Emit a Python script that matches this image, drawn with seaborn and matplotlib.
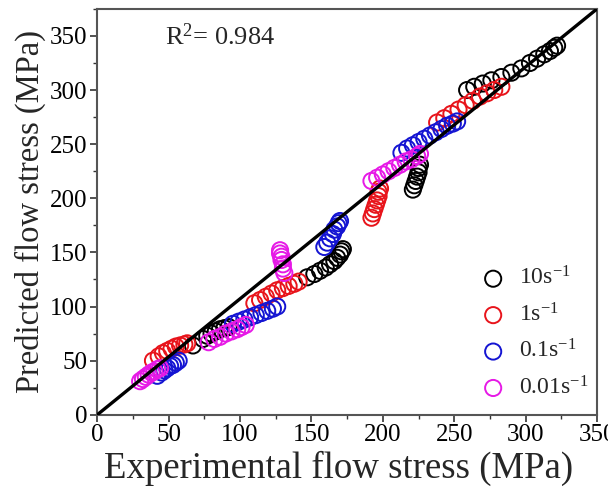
import numpy as np
import pandas as pd
import seaborn as sns
import matplotlib.pyplot as plt
from matplotlib.ticker import MultipleLocator

sns.set_style('ticks')
plt.rcParams['font.family'] = ['Liberation Serif', 'DejaVu Serif']
plt.rcParams['mathtext.fontset'] = 'custom'
plt.rcParams['mathtext.rm'] = 'Liberation Serif'
plt.rcParams['mathtext.it'] = 'Liberation Serif:italic'

# experimental vs predicted flow stress (MPa), one pair per strain rate
EXP_10 = [67, 74, 77, 80, 83, 86, 89, 92,
          147, 152, 156, 160, 163, 166, 168, 170, 171, 172,
          221, 222, 223, 224, 225, 225, 226,
          259, 264, 270, 276, 283, 290, 297, 303, 308, 313, 317, 320, 322]
PRED_10 = [64, 70, 73, 75, 77, 79, 80, 81,
           127, 130, 133, 136, 139, 142, 145, 148, 151, 153,
           208, 212, 216, 220, 224, 228, 231,
           300, 303, 306, 309, 312, 316, 320, 325, 329, 333, 336, 339, 341]

EXP_1 = [39, 43, 46, 49, 52, 55, 58, 61, 63,
         110, 114, 118, 122, 126, 130, 134, 138, 141,
         192, 193, 194, 195, 196, 197, 197, 198,
         238, 243, 248, 253, 258, 263, 268, 273, 278, 283]
PRED_1 = [50, 54, 57, 59, 61, 63, 64, 65, 66,
          103, 106, 109, 112, 115, 117, 119, 121, 123,
          182, 186, 190, 194, 198, 202, 206, 209,
          270, 274, 278, 282, 286, 290, 294, 297, 300, 303]

EXP_01 = [42, 45, 47, 49, 51, 53, 55, 57,
          95, 99, 103, 107, 111, 115, 119, 123, 126,
          159, 161, 163, 165, 166, 168, 169, 170,
          213, 217, 221, 225, 229, 233, 237, 241, 245, 249, 252]
PRED_01 = [36, 39, 41, 43, 45, 46, 48, 50,
           84, 86, 88, 90, 92, 94, 96, 98, 100,
           155, 159, 163, 167, 171, 174, 177, 179,
           242, 246, 249, 252, 255, 258, 261, 264, 267, 269, 271]

EXP_001 = [30, 32, 34, 36, 38, 40, 42, 44,
           78, 82, 86, 90, 94, 98, 101, 104,
           131, 130, 130, 129, 129, 128, 128,
           192, 196, 200, 204, 208, 212, 216, 220, 224, 226]
PRED_001 = [31, 33, 35, 37, 39, 40, 42, 43,
            67, 70, 72, 75, 77, 79, 81, 83,
            131, 135, 139, 143, 146, 149, 152,
            216, 219, 222, 225, 228, 231, 234, 236, 239, 241]

RATES = [r'10s$^{-1}$', r'1s$^{-1}$', r'0.1s$^{-1}$', r'0.01s$^{-1}$']
COLORS = ['black', '#e8141b', '#1414d2', '#e619e6']

FIT_X = [0, 350]
FIT_Y = [0, 375]

series = [(EXP_10, PRED_10), (EXP_1, PRED_1), (EXP_01, PRED_01), (EXP_001, PRED_001)]

fig = plt.figure(figsize=(6.08, 4.92), dpi=100)
ax = fig.add_axes([0.16, 0.157, 0.822, 0.825])

ax.plot(FIT_X, FIT_Y, color='black', linewidth=2.4, zorder=3)

for (xs, ys), label, color in zip(series, RATES, COLORS):
    df = pd.DataFrame({'x': xs, 'y': ys})
    sns.scatterplot(data=df, x='x', y='y', ax=ax, marker='o', s=135,
                    facecolor='none', edgecolor=color, linewidth=1.4,
                    label=label, zorder=2)

ax.set_xlim(0, 350)
ax.set_ylim(0, 375)
ax.xaxis.set_major_locator(MultipleLocator(50))
ax.yaxis.set_major_locator(MultipleLocator(50))
ax.xaxis.set_minor_locator(MultipleLocator(25))
ax.yaxis.set_minor_locator(MultipleLocator(25))
ax.tick_params(which='major', direction='out', length=5, width=1.2,
               labelsize=18, colors='#333333', labelcolor='black', pad=2)
ax.tick_params(which='minor', direction='out', length=3, width=1.0, colors='#333333')

for sp in ax.spines.values():
    sp.set_color('#555555')
    sp.set_linewidth(1.5)

ax.set_xlabel('Experimental flow stress (MPa)', fontsize=26.5, labelpad=0)
ax.xaxis.set_label_coords(0.483, -0.088)
ax.set_ylabel('Predicted flow stress (MPa)', fontsize=23.5, labelpad=3)

ax.text(0.135, 0.91, r'R$^2$= 0.984', transform=ax.transAxes, fontsize=19)

leg = ax.legend(loc='upper left', bbox_to_anchor=(0.726, 0.388), frameon=False,
                fontsize=17, labelspacing=0.56, handletextpad=0.1,
                markerscale=1.0, borderaxespad=0)

fig.savefig('out.png', dpi=100)
